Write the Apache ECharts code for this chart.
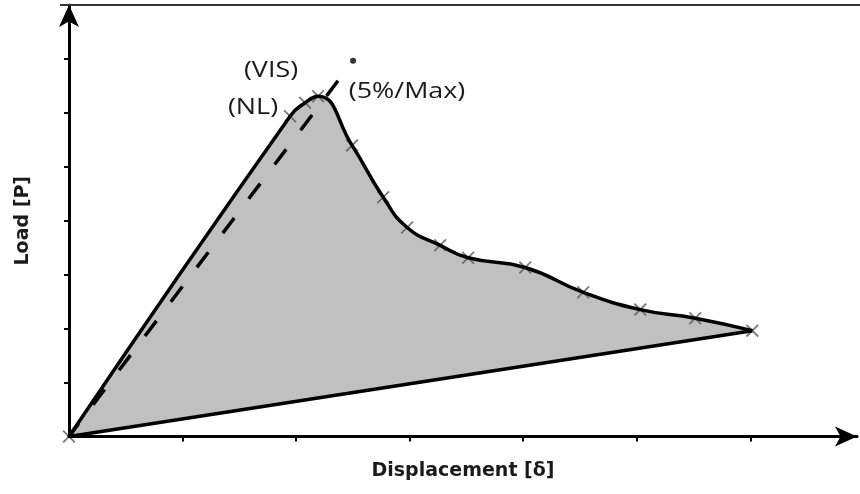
<!DOCTYPE html>
<html>
<head>
<meta charset="utf-8">
<script src="https://cdn.jsdelivr.net/npm/echarts@6/dist/echarts.min.js"></script>
<style>html,body{margin:0;padding:0;background:#fff}#c{width:860px;height:494px}</style>
</head>
<body>
<div id="c"></div>
<script>
// ---- data (units: x = displacement, y = load) ----
const xTicks = [1, 2, 3, 4, 5, 6];
const yTicks = [1, 2, 3, 4, 5, 6, 7];
const loadX = [0, 1.947, 2.079, 2.194, 2.493, 2.767, 2.978, 3.269, 3.515, 4.018, 4.529, 5.031, 5.515, 6.018];
const loadY = [0, 5.93, 6.18, 6.30, 5.39, 4.43, 3.87, 3.54, 3.31, 3.13, 2.67, 2.35, 2.19, 1.96];
const unloadX = [6.018, 0];
const unloadY = [1.96, 0];
const secantX = [0, 2.370];
const secantY = [0, 6.59];
const dotX = [2.502];
const dotY = [6.96];
const xTitle = 'Displacement [δ]';
const yTitle = 'Load [P]';
const noteTexts = ['(VIS)', '(NL)', '(5%/Max)'];

const zip = (a, b) => a.map((v, i) => [v, b[i]]);
const loadData = zip(loadX, loadY);
const unloadData = zip(unloadX, unloadY);
const secantData = zip(secantX, secantY);
const dotData = zip(dotX, dotY);

const xMark = 'path://M0,1L1,0L10,9L9,10Z M9,0L10,1L1,10L0,9Z';

const chart = echarts.init(document.getElementById('c'), null, {renderer: 'canvas'});
const axisCommon = {
  type: 'value',
  min: 0,
  interval: 1,
  z: 10,
  splitLine: {show: false},
  axisLabel: {show: false},
  axisLine: {show: true, symbol: ['none', 'arrow'], symbolSize: [15, 22], lineStyle: {color: '#000', width: 3}},
  axisTick: {show: true, inside: false, length: 5, lineStyle: {color: '#000', width: 2}},
  nameLocation: 'middle',
  nameTextStyle: {fontFamily: 'DejaVu Sans', fontWeight: 'bold', fontSize: 19, color: '#1a1a1a'}
};
chart.setOption({
  animation: false,
  backgroundColor: '#fff',
  grid: {left: 69, right: 3, top: 5, bottom: 57.5},
  xAxis: Object.assign({}, axisCommon, {
    max: 6.94, name: xTitle, nameGap: 25,
    axisTick: Object.assign({}, axisCommon.axisTick, {customValues: xTicks})
  }),
  yAxis: Object.assign({}, axisCommon, {
    max: 7.99, name: yTitle, nameGap: 36, nameRotate: 90,
    axisTick: Object.assign({}, axisCommon.axisTick, {customValues: yTicks})
  }),
  graphic: [
    {type: 'line', z: 20, shape: {x1: 60, y1: 5, x2: 860, y2: 5}, style: {stroke: '#333', lineWidth: 2}},
    {type: 'text', z: 20, x: 271, y: 71, scaleX: 1.28, style: {text: noteTexts[0], fontFamily: 'Open Sans', fontSize: 21, fill: '#1a1a1a', align: 'center', verticalAlign: 'middle'}},
    {type: 'text', z: 20, x: 253, y: 108, scaleX: 1.28, style: {text: noteTexts[1], fontFamily: 'Open Sans', fontSize: 21, fill: '#1a1a1a', align: 'center', verticalAlign: 'middle'}},
    {type: 'text', z: 20, x: 407, y: 92, scaleX: 1.28, style: {text: noteTexts[2], fontFamily: 'Open Sans', fontSize: 21, fill: '#1a1a1a', align: 'center', verticalAlign: 'middle'}}
  ],
  series: [
    {type: 'line', name: 'fill', data: loadData, smooth: 0.5, showSymbol: false, z: 1,
     lineStyle: {width: 0, opacity: 0}, areaStyle: {color: '#c0c0c0', opacity: 1}, silent: true},
    {type: 'custom', name: 'unfill', data: [0], z: 2, silent: true,
     renderItem: function (params, api) {
       const a = api.coord(unloadData[0]);
       const b = api.coord(unloadData[1]);
       const c = api.coord([unloadX[0], 0]);
       return {type: 'polygon', shape: {points: [[a[0] + 4, a[1]], a, b, [b[0], b[1] + 2], [c[0] + 4, c[1] + 2]]},
               style: {fill: '#ffffff'}};
     }},
    {type: 'scatter', name: 'points', data: loadData, symbol: xMark, symbolSize: 13, z: 3,
     itemStyle: {color: '#5a5a5a'}},
    {type: 'line', name: 'load', data: loadData, smooth: 0.5, showSymbol: false, z: 4,
     lineStyle: {color: '#000', width: 3.5}},
    {type: 'line', name: 'unload', data: unloadData, showSymbol: false, z: 4,
     lineStyle: {color: '#000', width: 3.5}},
    {type: 'line', name: 'secant', data: secantData, showSymbol: false, z: 5,
     lineStyle: {color: '#000', width: 3.5, type: [19, 24], dashOffset: 3}},
    {type: 'scatter', name: 'dot', data: dotData, symbol: 'circle', symbolSize: 6, z: 5,
     itemStyle: {color: '#000'}}
  ]
});
</script>
</body>
</html>
